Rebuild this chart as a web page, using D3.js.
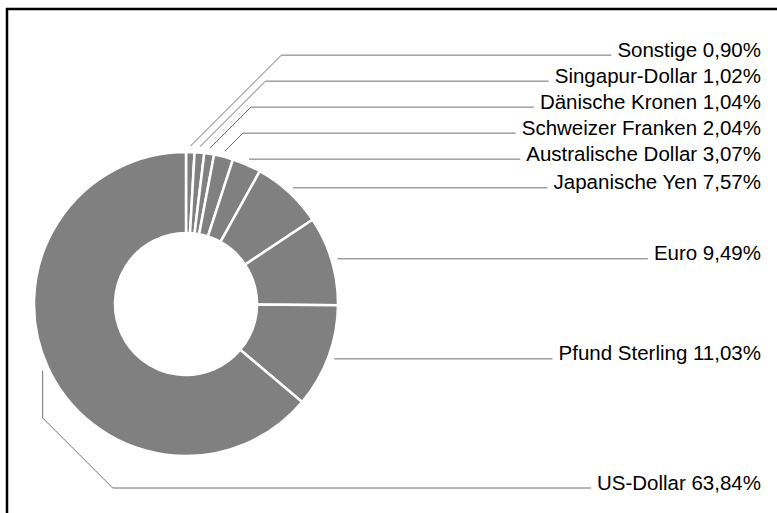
<!DOCTYPE html>
<html lang="de">
<head>
  <meta charset="UTF-8">
  <title>Währungsanteile</title>
  <script src="https://d3js.org/d3.v7.min.js"></script>
  <style>
    html, body {
      margin: 0;
      padding: 0;
      background: #fff;
      overflow: hidden;
    }

    svg {
      display: block;
    }

    .slice {
      fill: #808080;
      stroke: #fff;
      stroke-width: 2.5px;
    }

    .leader {
      fill: none;
      stroke: #707070;
      stroke-width: 1px;
    }

    .label {
      font-family: "Liberation Sans", Arial, sans-serif;
      font-size: 20.5px;
      fill: #000;
      text-anchor: end;
    }
  </style>
</head>
<body>
  <svg width="777" height="513"></svg>

  <script>
    const currencies = [
      "Sonstige", "Singapur-Dollar", "Dänische Kronen", "Schweizer Franken",
      "Australische Dollar", "Japanische Yen", "Euro", "Pfund Sterling", "US-Dollar"
    ];
    const shares = [0.90, 1.02, 1.04, 2.04, 3.07, 7.57, 9.49, 11.03, 63.84];

    const width = 777, height = 513;
    const cx = 186, cy = 304;
    const outerR = 152, innerR = 71;
    const labelRight = 761, labelGap = 26, bend = 70;

    const svg = d3.select("svg");

    // frame (only top and left edges are visible)
    svg.append("path")
      .attr("d", `M7,${height + 5}V9H${width + 5}`)
      .attr("fill", "none")
      .attr("stroke", "#000")
      .attr("stroke-width", 2.5);

    const slices = currencies.map((name, i) => ({ name, value: shares[i] }));
    const pie = d3.pie().sort(null).value(d => d.value);
    const arcs = pie(slices);

    const arc = d3.arc().innerRadius(innerR).outerRadius(outerR);
    const g = svg.append("g").attr("transform", `translate(${cx},${cy})`);

    g.selectAll("path.slice")
      .data(arcs)
      .enter().append("path")
      .attr("class", "slice")
      .attr("d", arc);

    // anchor points just outside the ring
    const anchorR = outerR + 6;
    arcs.forEach(d => {
      const a = (d.startAngle + d.endAngle) / 2;
      d.ax = cx + anchorR * Math.sin(a);
      d.ay = cy - anchorR * Math.cos(a);
      d.left = d.ax < cx;
    });

    // right-side labels: keep natural height, push up when they crowd
    const right = arcs.filter(d => !d.left).sort((a, b) => a.ay - b.ay);
    right.forEach(d => d.ly = d.ay);
    for (let i = right.length - 2; i >= 0; i--) {
      right[i].ly = Math.min(right[i].ly, right[i + 1].ly - labelGap);
    }
    arcs.filter(d => d.left).forEach(d => d.ly = cy + outerR + 32);

    const fmt = v => v.toFixed(2).replace(".", ",") + "%";

    const labels = svg.selectAll("text.label")
      .data(arcs)
      .enter().append("text")
      .attr("class", "label")
      .attr("x", labelRight)
      .attr("y", d => d.ly + 1.5)
      .text(d => `${d.data.name} ${fmt(d.data.value)}`);

    labels.each(function(d) {
      d.textStart = labelRight - this.getComputedTextLength();
    });

    const line = d3.line();
    svg.selectAll("path.leader")
      .data(arcs)
      .enter().insert("path", "text")
      .attr("class", "leader")
      .attr("d", d => {
        const end = d.textStart - 6;
        const dy = d.ly - d.ay;
        if (d.left) {
          return line([[d.ax, d.ay], [d.ax, d.ly - bend], [d.ax + bend, d.ly], [end, d.ly]]);
        }
        if (Math.abs(dy) < 1) {
          return line([[d.ax, d.ay], [end, d.ly]]);
        }
        return line([[d.ax, d.ay], [d.ax + Math.abs(dy), d.ly], [end, d.ly]]);
      });
  </script>
</body>
</html>
